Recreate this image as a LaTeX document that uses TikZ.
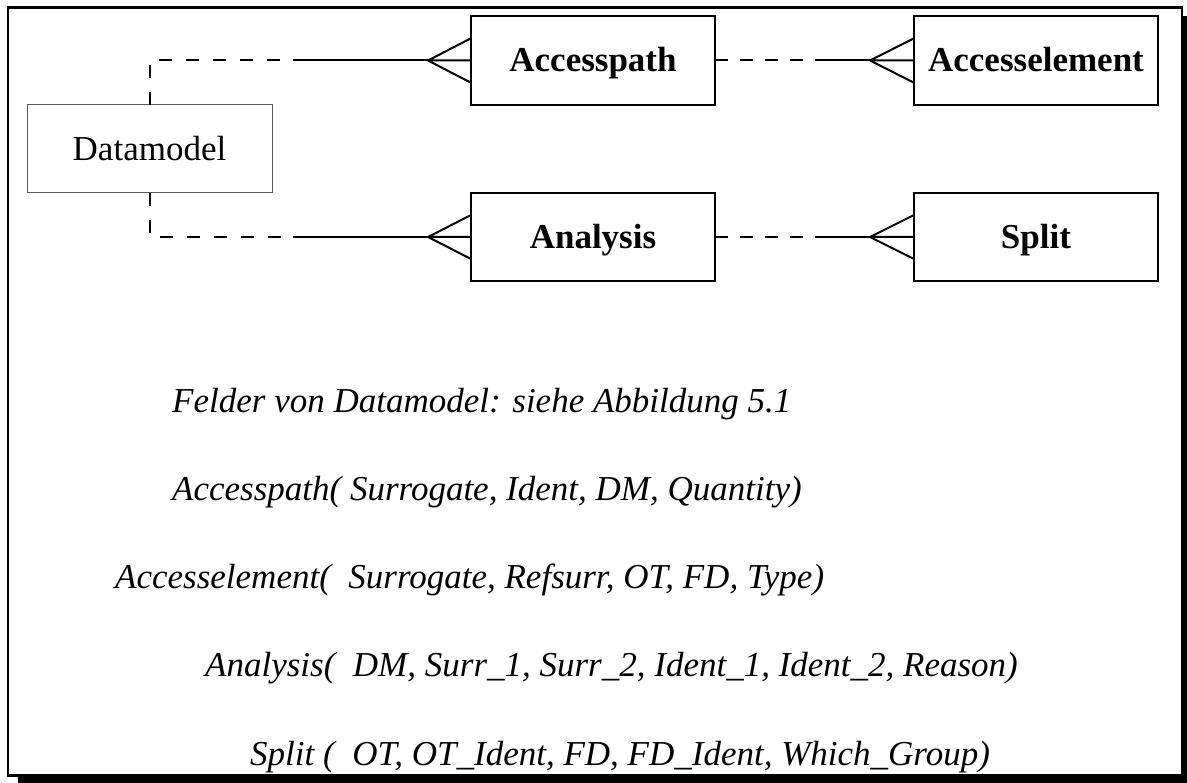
\documentclass[tikz,border=0pt]{standalone}
\usepackage{fontspec}
\setmainfont{Liberation Serif}
\usetikzlibrary{calc}
\begin{document}
\begin{tikzpicture}[x=1pt,y=-1pt,
  big/.style={font=\fontsize{35}{42}\selectfont},
  entity/.style={big, draw=black, line width=2pt, rectangle, minimum width=244pt,
    minimum height=89pt, inner sep=0pt, outer sep=0pt, text height=23pt,
    text depth=0pt, font=\fontsize{35}{42}\selectfont\bfseries},
  plainbox/.style={big, draw=black!65, line width=1pt, rectangle, minimum width=245pt,
    minimum height=88pt, inner sep=0pt, outer sep=0pt, text height=23pt, text depth=0pt},
  conn/.style={line width=2pt},
  dashconn/.style={conn, dash pattern=on 13pt off 14pt},
  relation/.style={big, anchor=base west, inner sep=0pt, font=\fontsize{35}{42}\selectfont\itshape}]

\useasboundingbox (0,0) rectangle (1187,783);

% shadowed frame
\fill[black] (18,16) rectangle (1187,783);
\draw[line width=2.5pt, fill=white] (8,7.5) rectangle (1182,775.5);

% entities
\node[plainbox] (dm) at (149.5,149) {Datamodel};
\node[entity] (ap) at (593,60.5) {Accesspath};
\node[entity] (ae) at (1036,60.5) {Accesselement};
\node[entity, minimum height=88pt] (an) at (593,237) {Analysis};
\node[entity, minimum height=88pt] (sp) at (1036,237) {Split};

% bends, dash ends and crow's-foot tips
\coordinate (apDash) at (293,60.5);
\coordinate (apTip)  at (428,60.5);
\coordinate (anDash) at (293,237);
\coordinate (anTip)  at (428,237);
\coordinate (aeDash) at (815,60.5);
\coordinate (aeTip)  at (870,60.5);
\coordinate (spDash) at (815,237);
\coordinate (spTip)  at (870,237);

% Datamodel -- Accesspath
\draw[dashconn] (dm.north) |- (apDash);
\draw[conn] (apDash) -- (apTip);
\draw[conn] (apTip) -- ($(ap.west)!.5!(ap.north west)$)
            (apTip) -- (ap.west)
            (apTip) -- ($(ap.west)!.5!(ap.south west)$);

% Datamodel -- Analysis
\draw[dashconn] (dm.south) |- (anDash);
\draw[conn] (anDash) -- (anTip);
\draw[conn] (anTip) -- ($(an.west)!.5!(an.north west)$)
            (anTip) -- (an.west)
            (anTip) -- ($(an.west)!.5!(an.south west)$);

% Accesspath -- Accesselement
\draw[conn, dash pattern=on 12.5pt off 12.5pt] (ap.east) -- (aeDash);
\draw[conn] (aeDash) -- (aeTip);
\draw[conn] (aeTip) -- ($(ae.west)!.5!(ae.north west)$)
            (aeTip) -- (ae.west)
            (aeTip) -- ($(ae.west)!.5!(ae.south west)$);

% Analysis -- Split
\draw[conn, dash pattern=on 12.5pt off 12.5pt] (an.east) -- (spDash);
\draw[conn] (spDash) -- (spTip);
\draw[conn] (spTip) -- ($(sp.west)!.5!(sp.north west)$)
            (spTip) -- (sp.west)
            (spTip) -- ($(sp.west)!.5!(sp.south west)$);

% relation schemas
\node[relation] (t1) at (172,413) {Felder von Datamodel: siehe Abbildung 5.1};
\node[relation] (t2) at (172,501) {Accesspath( Surrogate, Ident, DM, Quantity)};
\node[relation] (t3) at (115,588) {Accesselement(~~Surrogate, Refsurr, OT, FD, Type)};
\node[relation] (t4) at (205,676) {Analysis(~~DM, Surr\_1, Surr\_2, Ident\_1, Ident\_2, Reason)};
\node[relation] (t5) at (250,765) {Split (~~OT, OT\_Ident, FD, FD\_Ident, Which\_Group)};
\end{tikzpicture}
\end{document}
